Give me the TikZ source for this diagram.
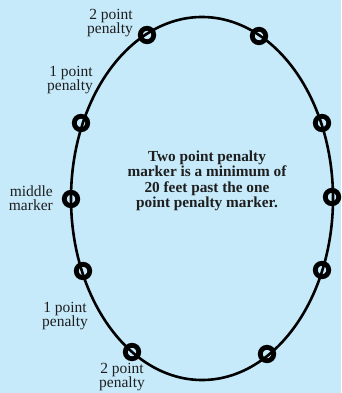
\documentclass[tikz,border=0pt]{standalone}
\usepackage{fontspec}
\setmainfont{Liberation Serif}
\definecolor{bgblue}{RGB}{198,234,250}
\definecolor{txt}{RGB}{30,30,30}
\begin{document}
\begin{tikzpicture}[x=1pt,y=-1pt,
  ring/.style={circle,draw=black,line width=4.8pt,minimum size=13.5pt,inner sep=0pt},
  lbl/.style={text=txt,font=\fontsize{15.5}{14.5}\selectfont,inner sep=0pt},
  note/.style={text=txt,font=\fontsize{15.3}{15.5}\selectfont\bfseries,align=center,inner sep=0pt}]
\fill[bgblue] (0,0) rectangle (341,393);
\useasboundingbox (0,0) rectangle (341,393);
\draw[line width=2.6pt] (202,198.5) ellipse [x radius=131, y radius=181.5];
\node[ring] (tl) at (147,35) {};
\node[ring] (tr) at (259,36) {};
\node[ring] (ul) at (81,123) {};
\node[ring] (ur) at (322,123) {};
\node[ring] (ml) at (71,199) {};
\node[ring] (mr) at (332,197) {};
\node[ring] (ll) at (83,271) {};
\node[ring] (lr) at (322,270) {};
\node[ring] (bl) at (132,352) {};
\node[ring] (br) at (267,354) {};
\node[lbl,align=right,anchor=east] (t1) at (133,23) {2 point\\penalty};
\node[lbl,align=right,anchor=east] (t2) at (93,80) {1 point\\penalty};
\node[lbl,align=right,anchor=east] (t3) at (53,198) {middle\\marker};
\node[lbl,align=center] (t4) at (65,316) {1 point\\penalty};
\node[lbl,align=center] (t5) at (122,377) {2 point\\penalty};
\node[note] (n) at (207,181) {Two point penalty\\marker is a minimum of\\20 feet past the one\\point penalty marker.};
\end{tikzpicture}
\end{document}
